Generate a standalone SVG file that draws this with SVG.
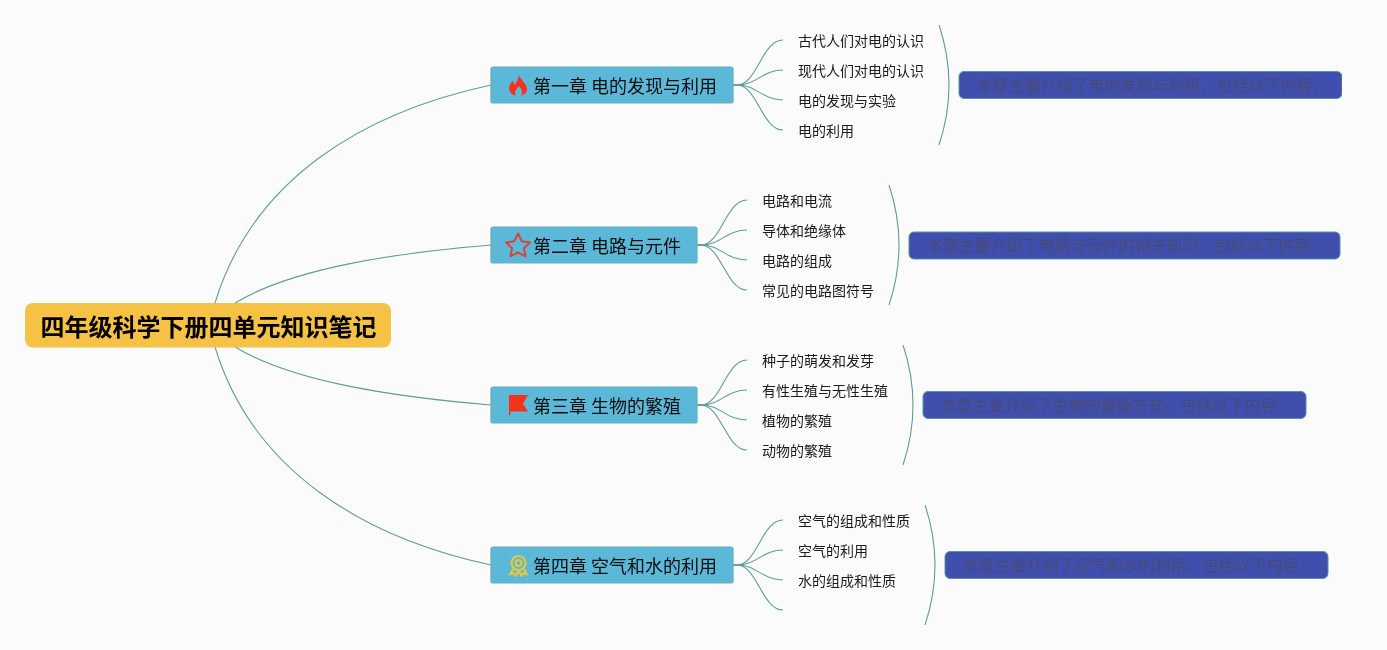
<svg xmlns="http://www.w3.org/2000/svg" width="1387" height="650" viewBox="0 0 1387 650">
<style>
text{font-family:"Noto Sans CJK SC","Noto Sans",sans-serif}
.root{fill:#f6c244}
.rt{font-size:24px;font-weight:700;fill:#000;text-anchor:middle}
.ch{fill:#5cb8d9;stroke:#6aaeb4;stroke-width:1.200}
.cht{font-size:18px;fill:#0c0c0c}
.leaf{font-size:14px;fill:#1a1a1a}
.sum{fill:#3f4fae;stroke:#5b93a4;stroke-width:1}
.st{font-size:16px;fill:#4a4a78}
.c{fill:none;stroke:#5f9e8f;stroke-width:1.100}
</style>
<defs><filter id="soft" x="0" y="0" width="100%" height="100%"><feGaussianBlur stdDeviation="0.350"/></filter></defs>
<rect width="1387" height="650" fill="#fbfbfb"/>
<g filter="url(#soft)">
<g id="connectors" class="c">
<path d="M215 303C253 178 365 112 491 85"/>
<path d="M235 303C293 268 395 253 491 245"/>
<path d="M235 347C293 382 395 397 491 405"/>
<path d="M215 347C253 472 365 538 491 565"/>
<path d="M733 85H737C757 85 762 40 783 40"/>
<path d="M733 85H737C757 85 762 70 783 70"/>
<path d="M733 85H737C757 85 762 100 783 100"/>
<path d="M733 85H737C757 85 762 130 783 130"/>
<path d="M697 245H701C721 245 726 200 747 200"/>
<path d="M697 245H701C721 245 726 230 747 230"/>
<path d="M697 245H701C721 245 726 260 747 260"/>
<path d="M697 245H701C721 245 726 290 747 290"/>
<path d="M697 405H701C721 405 726 360 747 360"/>
<path d="M697 405H701C721 405 726 390 747 390"/>
<path d="M697 405H701C721 405 726 420 747 420"/>
<path d="M697 405H701C721 405 726 450 747 450"/>
<path d="M733 565H737C757 565 762 520 783 520"/>
<path d="M733 565H737C757 565 762 550 783 550"/>
<path d="M733 565H737C757 565 762 580 783 580"/>
<path d="M733 565H737C757 565 762 610 783 610"/>
<path d="M939 25Q959 85 939 145"/>
<path d="M889 185Q909 245 889 305"/>
<path d="M903 345Q923 405 903 465"/>
<path d="M925 505Q945 565 925 625"/>
</g>
<g id="root"><rect class="root" x="25" y="303" width="366" height="44.500" rx="8"/><text class="rt" x="208.500" y="336">四年级科学下册四单元知识笔记</text></g>
<g id="ch1"><rect class="ch" x="491" y="67" width="242" height="36" rx="2"/>
<path d="M519 75C520 80 527 83 527 89C527 93 524 95 521 95.500C523 92 522 89 518.500 86C517 89 514 91 515.500 95.500C512 95 509 92 509 88.500C509 85 511 83 513 80.500C513 82.500 514 84 515 84.500C517 82 518 78 519 75Z" fill="#f5331c"/>
<text class="cht" x="533" y="92.500">第一章 电的发现与利用</text></g>
<g id="ch2"><rect class="ch" x="491" y="227" width="206" height="36" rx="2"/>
<path d="M518 233.500L521.800 241.300L530 242.400L524 248.100L525.500 256.300L518 252.300L510.500 256.300L512 248.100L506 242.400L514.200 241.300Z" fill="none" stroke="#d8433f" stroke-width="2" stroke-linejoin="round"/>
<text class="cht" x="533" y="252.500">第二章 电路与元件</text></g>
<g id="ch3"><rect class="ch" x="491" y="387" width="206" height="36" rx="2"/>
<path d="M509 395H528L523 403.500L528 411.500H510.500V415H509Z" fill="#f5301c"/>
<text class="cht" x="533" y="412.500">第三章 生物的繁殖</text></g>
<g id="ch4"><rect class="ch" x="491" y="547" width="242" height="36" rx="2"/>
<g fill="none" stroke="#e3c93f" stroke-width="2.200"><circle cx="518.500" cy="563" r="7"/><circle cx="518.500" cy="563" r="3"/><path d="M513 569L510.500 574L514 573.500L516 575.500L518.500 571L521 575.500L523 573.500L526.500 574L524 569"/></g>
<text class="cht" x="533" y="572.500">第四章 空气和水的利用</text></g>
<g id="leaves1"><text class="leaf" x="798" y="46">古代人们对电的认识</text><text class="leaf" x="798" y="76">现代人们对电的认识</text><text class="leaf" x="798" y="106">电的发现与实验</text><text class="leaf" x="798" y="136">电的利用</text></g>
<g id="leaves2"><text class="leaf" x="762" y="206">电路和电流</text><text class="leaf" x="762" y="236">导体和绝缘体</text><text class="leaf" x="762" y="266">电路的组成</text><text class="leaf" x="762" y="296">常见的电路图符号</text></g>
<g id="leaves3"><text class="leaf" x="762" y="366">种子的萌发和发芽</text><text class="leaf" x="762" y="396">有性生殖与无性生殖</text><text class="leaf" x="762" y="426">植物的繁殖</text><text class="leaf" x="762" y="456">动物的繁殖</text></g>
<g id="leaves4"><text class="leaf" x="798" y="526">空气的组成和性质</text><text class="leaf" x="798" y="556">空气的利用</text><text class="leaf" x="798" y="586">水的组成和性质</text></g>
<g id="sum1"><rect class="sum" x="959" y="71.500" width="383" height="27" rx="5"/><text class="st" x="976.500" y="91">本章主要介绍了电的发现与利用。包括以下内容：</text></g>
<g id="sum2"><rect class="sum" x="909" y="232" width="431" height="27" rx="5"/><text class="st" x="926.500" y="251">本章主要介绍了电路与元件的相关知识。包括以下内容：</text></g>
<g id="sum3"><rect class="sum" x="923" y="391.500" width="383" height="27" rx="5"/><text class="st" x="940.500" y="411">本章主要介绍了生物的繁殖方式。包括以下内容：</text></g>
<g id="sum4"><rect class="sum" x="945" y="551.500" width="383" height="27" rx="5"/><text class="st" x="962.500" y="571">本章主要介绍了空气和水的利用。包括以下内容：</text></g>
</g>
</svg>
